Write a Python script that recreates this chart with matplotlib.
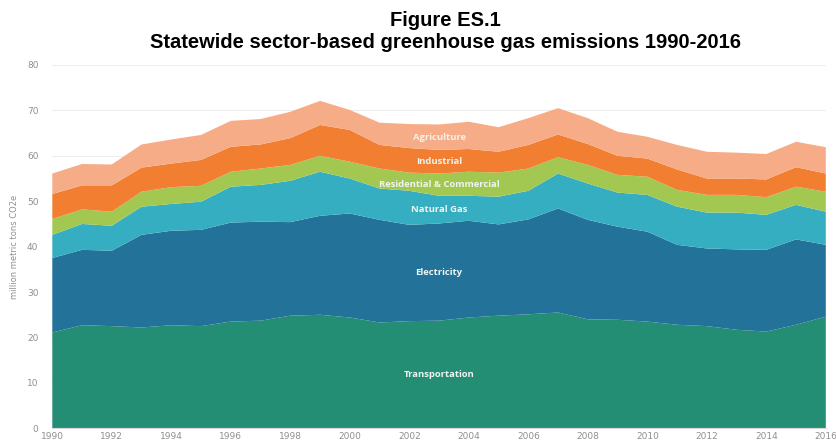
import matplotlib
matplotlib.use("Agg")
import matplotlib.pyplot as plt
import numpy as np

years = list(range(1990, 2017))
transportation = [21.1, 22.7, 22.5, 22.2, 22.7, 22.5, 23.5, 23.7, 24.8, 25.0, 24.4, 23.3, 23.6, 23.7,
                  24.4, 24.8, 25.1, 25.5, 24.0, 23.9, 23.5, 22.8, 22.5, 21.7, 21.3, 22.8, 24.6]
electricity = [16.4, 16.6, 16.6, 20.4, 20.8, 21.2, 21.8, 21.8, 20.6, 21.8, 22.9, 22.6, 21.2, 21.4,
               21.3, 20.1, 20.9, 22.9, 21.9, 20.5, 19.8, 17.6, 17.1, 17.7, 18.0, 18.8, 15.8]
natural_gas = [5.1, 5.7, 5.5, 6.2, 5.9, 6.2, 7.9, 8.1, 9.1, 9.7, 7.7, 6.9, 7.5, 6.1,
               5.5, 6.1, 6.3, 7.7, 8.0, 7.5, 8.1, 8.4, 7.9, 8.1, 7.7, 7.6, 7.3]
res_com = [3.5, 3.2, 3.1, 3.3, 3.7, 3.5, 3.3, 3.6, 3.5, 3.5, 3.7, 4.4, 4.0, 4.9,
           5.3, 5.3, 4.9, 3.6, 4.1, 3.9, 4.0, 3.7, 3.9, 3.9, 3.9, 4.0, 4.4]
industrial = [5.5, 5.3, 5.8, 5.3, 5.2, 5.7, 5.5, 5.3, 5.9, 6.8, 7.0, 5.2, 5.4, 5.2,
              5.0, 4.6, 5.2, 5.0, 4.6, 4.2, 4.0, 4.5, 3.6, 3.6, 3.9, 4.3, 4.0]
agriculture = [4.5, 4.7, 4.6, 5.1, 5.3, 5.5, 5.7, 5.6, 5.8, 5.3, 4.4, 4.9, 5.3, 5.6,
               6.0, 5.4, 5.9, 5.8, 5.7, 5.3, 4.8, 5.4, 5.9, 5.7, 5.6, 5.6, 5.8]

sector_names = ["Transportation", "Electricity", "Natural Gas",
                "Residential & Commercial", "Industrial", "Agriculture"]
sector_values = [transportation, electricity, natural_gas, res_com, industrial, agriculture]
colors = ["#238e74", "#22729a", "#36aec1", "#a3c851", "#f27f31", "#f6ad87"]
xticks = list(range(1990, 2017, 2))
yticks = list(range(0, 81, 10))

fig = plt.figure(figsize=(8.37, 4.47), dpi=100)
ax = fig.add_axes([52.3 / 837, 1 - 428.3 / 447, (825.8 - 52.3) / 837, (428.3 - 65) / 447])

ax.stackplot(years, *sector_values, colors=colors, linewidth=0)

ax.set_xlim(1990, 2016)
ax.set_ylim(0, 80)
ax.set_xticks(xticks)
ax.set_yticks(yticks)
ax.tick_params(axis="both", length=0, labelsize=6.5, colors="#8f8f8f")
ax.tick_params(axis="x", pad=3)
ax.tick_params(axis="y", pad=10)
for s in ["top", "right", "left"]:
    ax.spines[s].set_visible(False)
ax.spines["bottom"].set_color("#d9d9d9")
ax.spines["bottom"].set_linewidth(0.8)
ax.grid(axis="y", color="#eeeeee", linewidth=0.8)
ax.set_axisbelow(True)
ax.set_ylabel("million metric tons CO2e", fontsize=6, color="#8f8f8f", labelpad=6)

# in-area labels at 2003 midpoints
idx = years.index(2003)
base = 0.0
for name, vals in zip(sector_names, sector_values):
    mid = base + vals[idx] / 2
    base += vals[idx]
    ax.text(2003.0, mid, name, ha="center", va="center", fontsize=6.8, color="#eef4f2",
            fontweight="bold", family="Open Sans")

fig.text(0.532, 0.955, "Figure ES.1", ha="center", va="center", fontsize=14.5,
         fontweight="bold", family="Liberation Sans")
fig.text(0.532, 0.905, "Statewide sector-based greenhouse gas emissions 1990-2016", ha="center",
         va="center", fontsize=14.5, fontweight="bold", family="Liberation Sans")

fig.savefig("out.png", dpi=100)
